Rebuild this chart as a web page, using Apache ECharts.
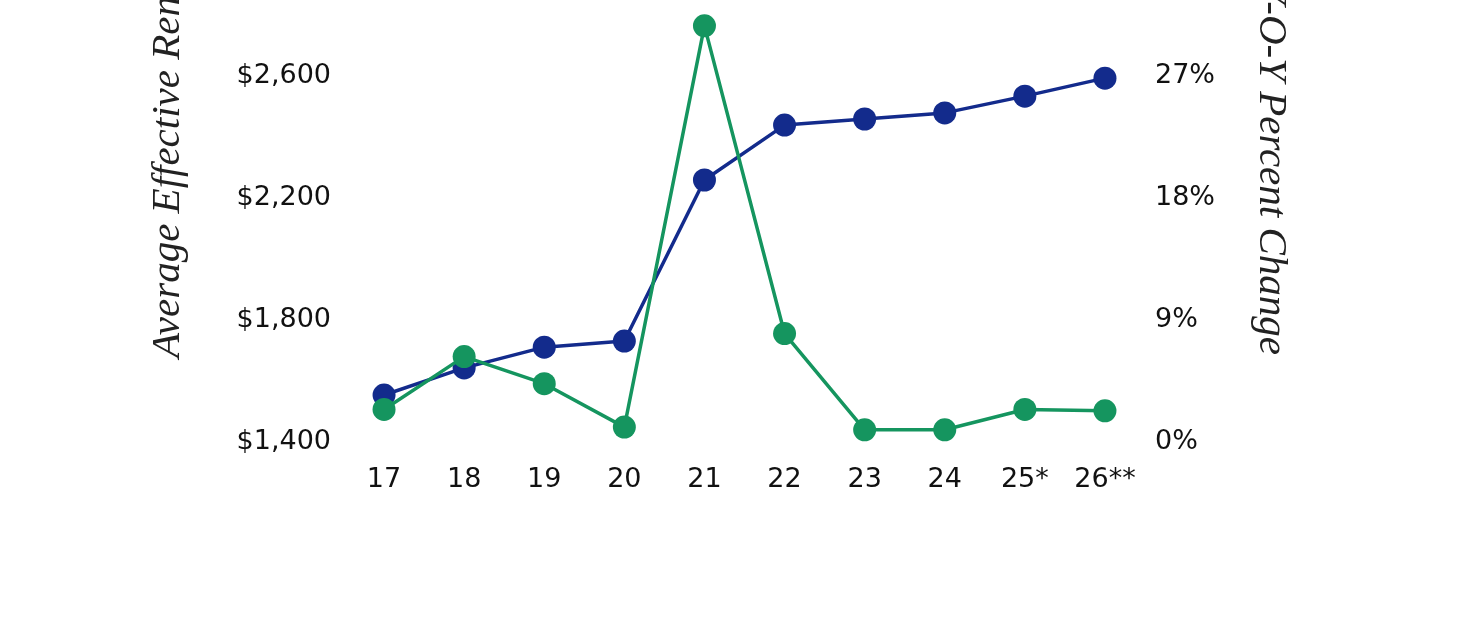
<!DOCTYPE html>
<html>
<head>
<meta charset="utf-8">
<script src="https://cdn.jsdelivr.net/npm/echarts@6/dist/echarts.min.js"></script>
<style>
  html, body { margin: 0; padding: 0; background: #fff; overflow: hidden; }
  /* the top of the plot is cut off in the original, so the canvas starts above the window */
  #chart { position: absolute; left: 0; top: -46px; width: 1467px; height: 672px; }
</style>
</head>
<body>
<div id="chart"></div>
<script>
const years = ["17", "18", "19", "20", "21", "22", "23", "24", "25*", "26**"];
const rent = [1554, 1643, 1711, 1731, 2259, 2439, 2459, 2479, 2534, 2593];
const yoyChange = [2.4, 6.3, 4.3, 1.1, 30.7, 8.0, 0.9, 0.9, 2.4, 2.3];

const BLUE = "#132b8c";
const GREEN = "#15955f";
const SHIFT = 46;
const labelFont = { fontFamily: "DejaVu Sans", fontSize: 27, color: "#111" };

const chart = echarts.init(document.getElementById("chart"));
chart.setOption({
  animation: false,
  grid: { left: 344, right: 322, top: 0, bottom: 184, containLabel: false, outerBoundsMode: "none" },
  xAxis: {
    type: "category",
    data: years,
    boundaryGap: true,
    axisLine: { show: false },
    axisTick: { show: false },
    axisLabel: Object.assign({ margin: 24 }, labelFont),
  },
  yAxis: [
    {
      type: "value",
      min: 1400,
      max: 3000,
      interval: 400,
      splitLine: { show: false },
      axisLine: { show: false },
      axisTick: { show: false },
      axisLabel: Object.assign({
        margin: 13,
        formatter: (v) => "$" + v.toLocaleString("en-US"),
      }, labelFont),
    },
    {
      type: "value",
      min: 0,
      max: 36,
      interval: 9,
      splitLine: { show: false },
      axisLine: { show: false },
      axisTick: { show: false },
      axisLabel: Object.assign({ margin: 10, formatter: "{value}%" }, labelFont),
    },
  ],
  graphic: [
    {
      type: "text",
      x: 168,
      y: 358 + SHIFT,
      rotation: Math.PI / 2,
      style: {
        text: "Average Effective Rent",
        font: "italic 41px 'Liberation Serif'",
        fill: "#222",
        textAlign: "left",
        textVerticalAlign: "middle",
      },
    },
    {
      type: "text",
      x: 1271,
      y: 355 + SHIFT,
      rotation: -Math.PI / 2,
      style: {
        text: "Y-O-Y Percent Change",
        font: "italic 41px 'Liberation Serif'",
        fill: "#222",
        textAlign: "right",
        textVerticalAlign: "middle",
      },
    },
  ],
  series: [
    {
      name: "Average Effective Rent",
      type: "line",
      data: rent,
      yAxisIndex: 0,
      symbol: "circle",
      symbolSize: 23,
      lineStyle: { color: BLUE, width: 3.5 },
      itemStyle: { color: BLUE },
      z: 2,
    },
    {
      name: "Y-O-Y Percent Change",
      type: "line",
      data: yoyChange,
      yAxisIndex: 1,
      symbol: "circle",
      symbolSize: 23,
      lineStyle: { color: GREEN, width: 3.5 },
      itemStyle: { color: GREEN },
      z: 3,
    },
  ],
});
</script>
</body>
</html>
